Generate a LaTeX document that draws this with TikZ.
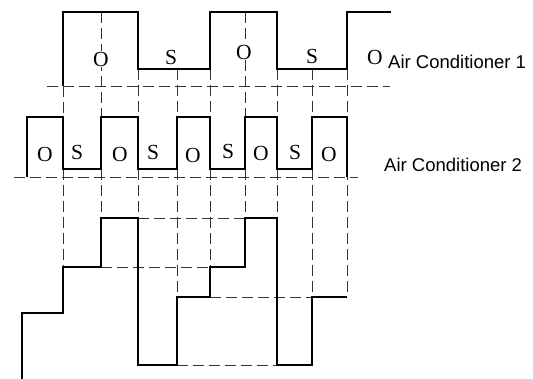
\documentclass[tikz,border=0pt]{standalone}
\usepackage{fontspec}
\setmainfont{Liberation Serif}
\newfontfamily\tagfont{Liberation Sans}

\begin{document}
\begin{tikzpicture}[x=1pt,y=-1pt,
	wave/.style={line width=1.2pt},
	sumwave/.style={line width=2.8pt,line join=miter},
	guide/.style={line width=0.8pt,black!80,dash pattern=on 11pt off 5pt},
	letter/.style={fill=white,inner sep=1pt,font=\fontsize{21.5}{23}\selectfont},
	tag/.style={anchor=base west,inner sep=0pt,font=\tagfont\fontsize{18.5}{20}\selectfont}]
	
	\useasboundingbox (0,0) rectangle (533,379);
	
	%% levels
	\def\hiA{12} % AC1 on
	\def\loA{69} % AC1 off
	\def\bsA{86} % AC1 base
	\def\hiB{117} % AC2 on
	\def\loB{169} % AC2 off
	\def\bsB{177} % AC2 base
	
	% dashed guides first, the waves go on top
	\draw[guide] (47,\bsA) -- (390,\bsA);
	\draw[guide] (14,\bsB) -- (358,\bsB);
	\foreach \x/\y in {63/\bsA,101/\hiA,138/\loA,177/\loA,210/\loA,245/\hiA,277/\loA,312/\loA,347/\loA}
		\draw[guide] (\x,\y) -- (\x,\hiB);
	\foreach \x/\y in {63/267,101/218,138/218,177/297,210/267,245/218,277/218,312/297,347/297}
		\draw[guide] (\x,\loB) -- (\x,\y);
	\draw[guide] (138,218) -- (245,218);
	\draw[guide] (101,267) -- (210,267);
	\draw[guide] (210,297) -- (312,297);
	\draw[guide] (177,365) -- (277,365);
	
	% Air Conditioner 1
	\draw[wave] (63,\bsA) -- (63,\hiA) -- (138,\hiA) -- (138,\loA) -- (210,\loA) -- (210,\hiA)
		-- (277,\hiA) -- (277,\loA) -- (347,\loA) -- (347,\hiA) -- (391,\hiA);
	
	% Air Conditioner 2
	\draw[wave] (27,\bsB) -- (27,\hiB) -- (63,\hiB) -- (63,\loB) -- (101,\loB) -- (101,\hiB)
		-- (138,\hiB) -- (138,\loB) -- (177,\loB) -- (177,\hiB) -- (210,\hiB) -- (210,\loB)
		-- (245,\loB) -- (245,\hiB) -- (277,\hiB) -- (277,\loB) -- (312,\loB) -- (312,\hiB)
		-- (347,\hiB) -- (347,\bsB);
	
	% sum of both
	\draw[sumwave] (22,379) -- (22,313) -- (63,313) -- (63,267) -- (101,267) -- (101,218)
		-- (138,218) -- (138,365) -- (177,365) -- (177,297) -- (210,297) -- (210,267)
		-- (245,267) -- (245,218) -- (277,218) -- (277,365) -- (312,365) -- (312,297)
		-- (347,297);
	
	% state letters
	\foreach \x/\y/\t [count=\i] in {101/59/O,171/57/S,244/52/O,312/56/S,375/57/O}
		\node[letter] (one\i) at (\x,\y) {\t};
	\foreach \x/\y/\t [count=\i] in {45/154/O,77/152/S,120/154/O,153/152/S,193/155/O,228/151/S,261/153/O,295/152/S,329/154/O}
		\node[letter] (two\i) at (\x,\y) {\t};
	
	\node[tag] (acone) at (388,69) {Air Conditioner 1};
	\node[tag] (actwo) at (384,172) {Air Conditioner 2};
	
\end{tikzpicture}
\end{document}
